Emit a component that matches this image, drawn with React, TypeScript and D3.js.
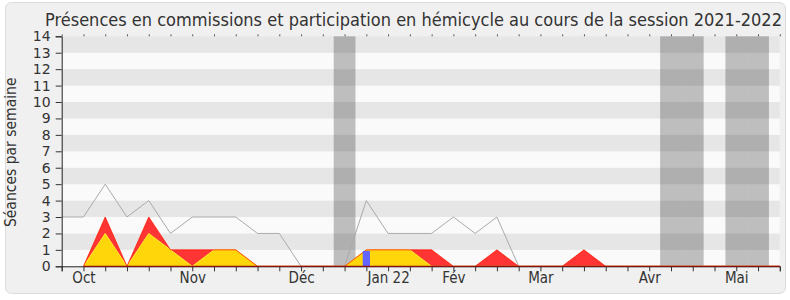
import React, { useEffect, useRef } from "react";
import * as d3 from "d3";

// Weekly data, session 2021-2022 (week index 0 = last week of September)
const weekIndex: number[] = d3.range(34);
const seancesHemicycle: number[] = [3, 3, 5, 3, 4, 2, 3, 3, 3, 2, 2, 0, 0, 0, 4, 2, 2, 2, 3, 2, 3, 0, 0, 0, 0, 0, 0, 0, 0, 0, 0, 0, 0, 0];
const presencesTotal: (number | null)[] = [null, 0, 3, 0, 3, 1, 1, 1, 1, 0, 0, 0, 0, 0, 1, 1, 1, 1, 0, 0, 1, 0, 0, 0, 1, 0, 0, 0, 0, 0, 0, 0, 0, 0];
const presencesHemicycle: (number | null)[] = [null, 0, 2, 0, 2, 1, 0, 1, 1, 0, 0, 0, 0, 0, 1, 1, 1, 0, 0, 0, 0, 0, 0, 0, 0, 0, 0, 0, 0, 0, 0, 0, 0, 0];
const questionsOrales: number[] = [0, 0, 0, 0, 0, 0, 0, 0, 0, 0, 0, 0, 0, 0, 1, 0, 0, 0, 0, 0, 0, 0, 0, 0, 0, 0, 0, 0, 0, 0, 0, 0, 0, 0];
const vacationWeeks: number[] = [13, 28, 29, 31, 32];
const monthWeeks: number[] = [1, 6, 11, 15, 18, 22, 27, 31];
const monthLabels: string[] = ["Oct", "Nov", "Déc", "Jan 22", "Fév", "Mar", "Avr", "Mai"];
const yTicks: number[] = d3.range(0, 15);

const TITLE = "Présences en commissions et participation en hémicycle au cours de la session 2021-2022";
const FONT = "'DejaVu Sans Condensed', 'DejaVu Sans', sans-serif";
const FONT_REG = "'DejaVu Sans', sans-serif";

export default function App() {
  const ref = useRef<SVGSVGElement>(null);

  useEffect(() => {
    const svg = d3.select(ref.current);
    svg.selectAll("*").remove();

    const x = d3.scaleLinear().domain([0, 33]).range([61.7, 779.8]);
    const y = d3.scaleLinear().domain([0, 14]).range([266.3, 36.3]);

    // frame
    svg.append("rect")
      .attr("x", 5.5).attr("y", 2.5).attr("width", 780).attr("height", 291)
      .attr("rx", 6).attr("fill", "#f0f0f0").attr("stroke", "#dcdcdc");

    // title
    svg.append("text")
      .attr("x", 413.5).attr("y", 26)
      .attr("text-anchor", "middle")
      .attr("font-family", FONT).attr("font-size", 18)
      .attr("fill", "#333")
      .text(TITLE);

    // stripes
    svg.append("g").selectAll("rect")
      .data(d3.range(0, 14))
      .join("rect")
      .attr("x", x(0)).attr("width", x(33) - x(0))
      .attr("y", (k) => y(k + 1)).attr("height", (k) => y(k) - y(k + 1))
      .attr("fill", (k) => (k % 2 === 1 ? "#e6e6e6" : "#fafafa"));

    // vacation bands
    svg.append("g").selectAll("rect")
      .data(vacationWeeks)
      .join("rect")
      .attr("x", (w) => x(w - 0.5)).attr("width", (w) => x(w + 0.5) - x(w - 0.5))
      .attr("y", y(14)).attr("height", y(0) - y(14))
      .attr("fill", "#000").attr("fill-opacity", 0.24);

    // séances line (gray)
    const line = d3.line<number>()
      .x((i) => x(i))
      .y((i) => y(seancesHemicycle[i]));
    svg.append("path")
      .attr("d", line(weekIndex))
      .attr("fill", "none").attr("stroke", "#aaaaaa").attr("stroke-width", 1);

    // red area: total presences
    const redArea = d3.area<number>()
      .defined((i) => presencesTotal[i] !== null)
      .x((i) => x(i)).y0(y(0)).y1((i) => y(presencesTotal[i] as number));
    svg.append("path")
      .attr("d", redArea(weekIndex))
      .attr("fill", "#ff3535");

    // yellow area: hemicycle presences
    const yellowArea = d3.area<number>()
      .defined((i) => presencesHemicycle[i] !== null)
      .x((i) => x(i)).y0(y(0)).y1((i) => y(presencesHemicycle[i] as number));
    svg.append("path")
      .attr("d", yellowArea(weekIndex))
      .attr("fill", "#ffd60a");
    const yellowLine = d3.line<number>()
      .defined((i) => presencesHemicycle[i] !== null)
      .x((i) => x(i)).y((i) => y(presencesHemicycle[i] as number));
    svg.append("path")
      .attr("d", yellowLine(weekIndex))
      .attr("fill", "none").attr("stroke", "#ffe830").attr("stroke-width", 1);

    // red top line
    const redLine = d3.line<number>()
      .defined((i) => presencesTotal[i] !== null)
      .x((i) => x(i)).y((i) => y(presencesTotal[i] as number));
    svg.append("path")
      .attr("d", redLine(weekIndex))
      .attr("fill", "none").attr("stroke", "#ff1a00").attr("stroke-width", 1)
      .attr("stroke-opacity", 0.75);

    // blue bars: questions
    const bw = (x(1) - x(0)) / 3;
    svg.append("g").selectAll("rect")
      .data(weekIndex.filter((i) => questionsOrales[i] > 0))
      .join("rect")
      .attr("x", (i) => x(i) - bw / 2).attr("width", bw)
      .attr("y", (i) => y(questionsOrales[i]) + 1).attr("height", (i) => y(0) - y(questionsOrales[i]) - 1)
      .attr("fill", "#6464ff");

    // axes
    const gx = svg.append("g").attr("transform", `translate(0,${y(0)})`)
      .call(d3.axisBottom(x).tickValues(weekIndex).tickSize(5).tickFormat(() => ""));
    gx.select(".domain").attr("stroke", "#222");
    gx.selectAll(".tick line").attr("stroke", "#333");

    const gxl = svg.append("g").attr("transform", `translate(0,${y(0)})`)
      .call(d3.axisBottom(x).tickValues(monthWeeks).tickSize(0)
        .tickFormat((d) => monthLabels[monthWeeks.indexOf(d as number)]));
    gxl.select(".domain").remove();
    gxl.selectAll("text")
      .attr("y", 17).attr("dy", 0)
      .attr("font-family", FONT).attr("font-size", 15).attr("fill", "#333");

    // red baseline overlay (from first data week)
    const baseLine = d3.line<number>()
      .defined((i) => presencesTotal[i] !== null)
      .x((i) => x(i)).y(() => y(0));
    svg.append("path")
      .attr("d", baseLine(weekIndex))
      .attr("fill", "none").attr("stroke", "#8a1010").attr("stroke-width", 1.2);

    const gt = svg.append("g").attr("transform", `translate(0,${y(14)})`)
      .call(d3.axisTop(x).tickValues(weekIndex).tickSize(2).tickFormat(() => ""));
    gt.select(".domain").remove();
    gt.selectAll(".tick line").attr("stroke", "#555");

    const gy = svg.append("g").attr("transform", `translate(${x(0)},0)`)
      .call(d3.axisLeft(y).tickValues(yTicks).tickSize(6).tickPadding(5).tickFormat(d3.format("d")));
    gy.select(".domain").attr("stroke", "#222");
    gy.selectAll(".tick line").attr("stroke", "#333");
    gy.selectAll("text")
      .attr("font-family", FONT_REG).attr("font-size", 14).attr("fill", "#333");

    // y axis title
    svg.append("text")
      .attr("transform", `translate(16,${(y(0) + y(14)) / 2 + 1}) rotate(-90)`)
      .attr("text-anchor", "middle")
      .attr("font-family", FONT).attr("font-size", 15.5).attr("fill", "#333")
      .text("Séances par semaine");
  }, []);

  return (
    <svg
      ref={ref}
      width={790}
      height={300}
      style={{ position: "absolute", left: 0, top: 0, background: "#fff" }}
    />
  );
}
